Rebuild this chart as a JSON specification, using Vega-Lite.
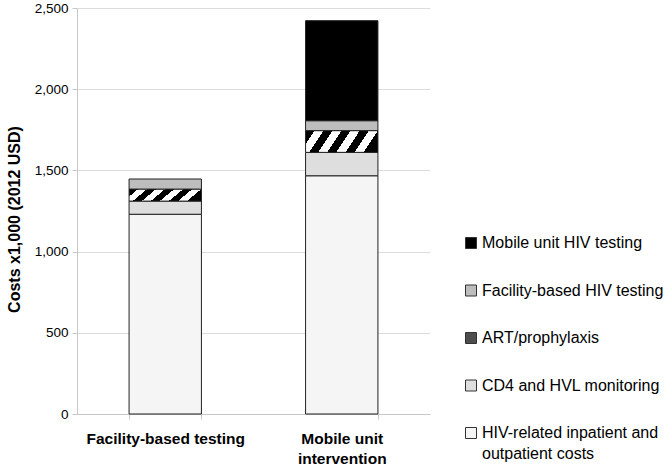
{
  "$schema": "https://vega.github.io/schema/vega-lite/v6.json",
  "width": 353,
  "height": 406,
  "autosize": "none",
  "padding": {"left": 77, "top": 8, "right": 238, "bottom": 58},
  "background": "white",
  "config": {
    "view": {"stroke": null},
    "font": "Liberation Sans",
    "style": {"guide-label": {"lineHeight": 21}}
  },
  "data": {
    "values": [
      {"strategy": "Facility-based testing", "component": "HIV-related inpatient and outpatient costs", "rank": 1, "cost": 1230},
      {"strategy": "Facility-based testing", "component": "CD4 and HVL monitoring", "rank": 2, "cost": 81},
      {"strategy": "Facility-based testing", "component": "ART/prophylaxis", "rank": 3, "cost": 74},
      {"strategy": "Facility-based testing", "component": "Facility-based HIV testing", "rank": 4, "cost": 62},
      {"strategy": "Mobile unit intervention", "component": "HIV-related inpatient and outpatient costs", "rank": 1, "cost": 1467},
      {"strategy": "Mobile unit intervention", "component": "CD4 and HVL monitoring", "rank": 2, "cost": 144},
      {"strategy": "Mobile unit intervention", "component": "ART/prophylaxis", "rank": 3, "cost": 134},
      {"strategy": "Mobile unit intervention", "component": "Facility-based HIV testing", "rank": 4, "cost": 61},
      {"strategy": "Mobile unit intervention", "component": "Mobile unit HIV testing", "rank": 5, "cost": 616}
    ]
  },
  "mark": {"type": "bar", "stroke": "#222222", "strokeWidth": 1, "opacity": 1},
  "encoding": {
    "x": {
      "field": "strategy",
      "type": "nominal",
      "sort": ["Facility-based testing", "Mobile unit intervention"],
      "scale": {"paddingInner": 0.59, "paddingOuter": 0.295},
      "axis": {
        "title": null,
        "labelAngle": 0,
        "labelFont": "Liberation Sans",
        "labelFontSize": 15.5,
        "labelFontWeight": "bold",
        "labelColor": "black",
        "labelPadding": 12,
        "labelLineHeight": 20,
        "labelExpr": "datum.value == 'Mobile unit intervention' ? ['Mobile unit', 'intervention'] : datum.label",
        "domainColor": "#c8c8c8",
        "tickColor": "#c8c8c8",
        "tickSize": 5,
        "tickBand": "extent",
        "grid": false
      }
    },
    "y": {
      "field": "cost",
      "type": "quantitative",
      "aggregate": "sum",
      "stack": "zero",
      "scale": {"domain": [0, 2500], "nice": false},
      "axis": {
        "title": "Costs x1,000 (2012 USD)",
        "titleFont": "Liberation Sans",
        "titleFontSize": 16,
        "titleFontWeight": "bold",
        "titleColor": "black",
        "titleAngle": -90,
        "titleX": -63,
        "titleY": 211,
        "titleAlign": "center",
        "titleBaseline": "middle",
        "values": [0, 500, 1000, 1500, 2000, 2500],
        "format": ",.0f",
        "labelFont": "Liberation Sans",
        "labelFontSize": 13.5,
        "labelColor": "black",
        "labelPadding": 4,
        "tickSize": 5,
        "tickColor": "#c8c8c8",
        "domainColor": "#c8c8c8",
        "gridColor": "#dcdcdc"
      }
    },
    "order": {"field": "rank", "type": "quantitative", "sort": "ascending"},
    "color": {
      "condition": {
        "test": "datum.component === 'ART/prophylaxis'",
        "value": {"gradient": "linear", "x1": 0, "y1": 0, "x2": 1, "y2": 0.2, "stops": [
          {"offset": 0, "color": "#000000"}, {"offset": 0.12, "color": "#000000"},
          {"offset": 0.12, "color": "#ffffff"}, {"offset": 0.24, "color": "#ffffff"},
          {"offset": 0.24, "color": "#000000"}, {"offset": 0.36, "color": "#000000"},
          {"offset": 0.36, "color": "#ffffff"}, {"offset": 0.48, "color": "#ffffff"},
          {"offset": 0.48, "color": "#000000"}, {"offset": 0.6, "color": "#000000"},
          {"offset": 0.6, "color": "#ffffff"}, {"offset": 0.72, "color": "#ffffff"},
          {"offset": 0.72, "color": "#000000"}, {"offset": 0.84, "color": "#000000"},
          {"offset": 0.84, "color": "#ffffff"}, {"offset": 0.96, "color": "#ffffff"},
          {"offset": 0.96, "color": "#000000"}, {"offset": 1, "color": "#000000"}
        ]}
      },
      "field": "component",
      "type": "nominal",
      "scale": {
        "domain": ["Mobile unit HIV testing", "Facility-based HIV testing", "ART/prophylaxis", "CD4 and HVL monitoring", "HIV-related inpatient and outpatient costs"],
        "range": ["#000000", "#bdbdbd", "#4d4d4d", "#dedede", "#f5f5f5"]
      },
      "legend": {
        "title": null,
        "orient": "none",
        "legendX": 386,
        "legendY": 227,
        "symbolType": "square",
        "symbolSize": 121,
        "symbolStrokeColor": "#333333",
        "symbolStrokeWidth": 1,
        "symbolOpacity": 1,
        "labelFont": "Liberation Sans",
        "labelFontSize": 16,
        "labelColor": "black",
        "labelOffset": 3,
        "labelLimit": 300,
        "rowPadding": 31.5,
        "labelExpr": "datum.value == 'HIV-related inpatient and outpatient costs' ? ['HIV-related inpatient and', 'outpatient costs'] : datum.label"
      }
    }
  }
}
